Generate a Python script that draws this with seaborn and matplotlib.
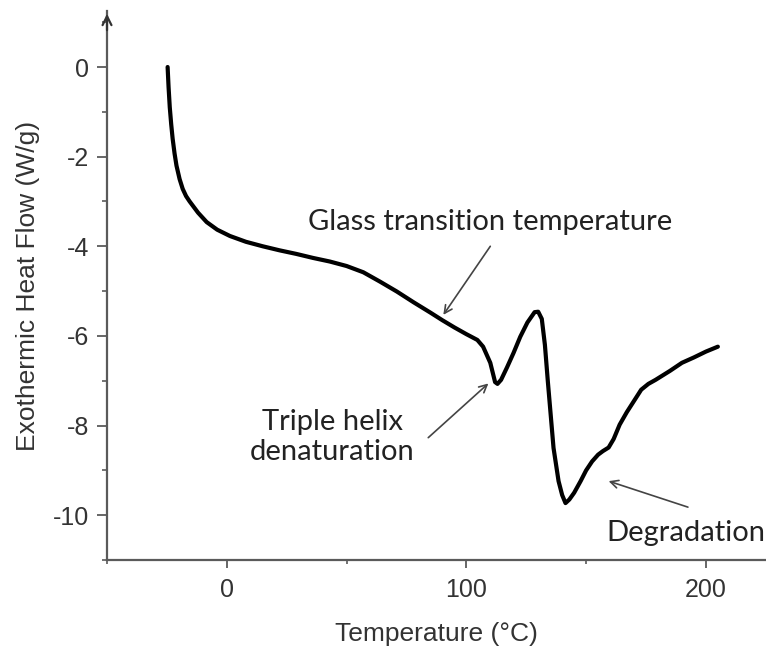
import matplotlib
matplotlib.use("Agg")
import matplotlib.pyplot as plt
from matplotlib.ticker import MultipleLocator
import seaborn as sns
import pandas as pd

# DSC trace: temperature (°C) vs exothermic heat flow (W/g)
temperature = [-24.7, -24.3, -23.8, -23.2, -22.6, -21.8, -21.0, -19.7, -18.4, -17.0,
               -15.5, -12.0, -8.4, -4.0, 1.3, 8.0, 15.0, 22.0, 29.0, 36.0,
               43.0, 50.0, 57.0, 64.0, 71.0, 78.0, 85.0, 90.0, 95.0, 100.0,
               104.6, 107.0, 110.0, 112.0, 113.0, 114.5, 117.0, 119.7, 122.5, 125.5,
               128.5, 130.0, 131.5, 132.8, 134.0, 136.4, 138.5, 140.0, 141.4, 143.0,
               145.0, 147.7, 150.0, 152.5, 155.0, 157.0, 159.4, 161.5, 164.0, 167.0,
               170.0, 173.0, 176.0, 179.0, 185.0, 190.0, 195.0, 200.0, 205.0]
heat_flow = [0.0, -0.45, -0.9, -1.28, -1.6, -1.93, -2.2, -2.5, -2.72, -2.88,
             -3.0, -3.25, -3.46, -3.63, -3.77, -3.9, -4.0, -4.09, -4.17, -4.26,
             -4.34, -4.44, -4.58, -4.79, -5.01, -5.25, -5.48, -5.65, -5.81, -5.96,
             -6.09, -6.24, -6.6, -7.03, -7.07, -6.98, -6.7, -6.38, -6.02, -5.7,
             -5.47, -5.46, -5.62, -6.2, -7.0, -8.5, -9.24, -9.55, -9.73, -9.65,
             -9.5, -9.24, -9.0, -8.8, -8.65, -8.57, -8.49, -8.3, -7.98, -7.7,
             -7.45, -7.2, -7.07, -6.98, -6.78, -6.6, -6.48, -6.35, -6.24]

x_ticks = [0, 100, 200]
y_ticks = [0, -2, -4, -6, -8, -10]

df = pd.DataFrame({"Temperature": temperature, "HeatFlow": heat_flow})

sns.set_theme(style="ticks")
plt.rcParams["font.family"] = ["Liberation Sans", "DejaVu Sans"]

fig = plt.figure(figsize=(7.66, 6.46), dpi=100)
ax = fig.add_axes([0.1397, 0.1331, 0.8600, 0.8499])

sns.lineplot(data=df, x="Temperature", y="HeatFlow", sort=False, estimator=None,
             color="black", linewidth=3.0, ax=ax)

ax.set_xlim(-50, 225)
ax.set_ylim(-11, 1.25)
ax.set_xticks(x_ticks)
ax.set_yticks(y_ticks)
ax.set_yticklabels([str(v) for v in y_ticks])
ax.xaxis.set_minor_locator(MultipleLocator(50))
ax.yaxis.set_minor_locator(MultipleLocator(1))

axis_col = "#5a5a5a"
for side in ("top", "right"):
    ax.spines[side].set_visible(False)
for side in ("left", "bottom"):
    ax.spines[side].set_color(axis_col)
    ax.spines[side].set_linewidth(1.6)

ax.tick_params(axis="both", which="major", direction="out", color=axis_col,
               width=1.3, labelsize=18, labelcolor="#333333")
ax.tick_params(axis="y", which="major", length=7, pad=6)
ax.tick_params(axis="y", which="minor", length=3.6, width=1.2, color=axis_col)
ax.tick_params(axis="x", which="major", length=6, pad=7)
ax.tick_params(axis="x", which="minor", length=3, width=1.2, color=axis_col)

# arrow head at the top of the y axis
ax.annotate("", xy=(0, 1.0), xycoords="axes fraction", xytext=(0, 0.96),
            textcoords="axes fraction",
            arrowprops=dict(arrowstyle="->", color="#333333", lw=1.6,
                            mutation_scale=16))

ax.set_xlabel("Temperature (°C)", fontsize=19, color="#333333", labelpad=14)
ax.set_ylabel("Exothermic Heat Flow (W/g)", fontsize=19, color="#333333", labelpad=9)

note_font = ["Lato", "DejaVu Sans"]
note_col = "#222222"
arrow_kw = dict(arrowstyle="->", color="#444444", lw=1.2, mutation_scale=14,
                shrinkA=0, shrinkB=0)

ax.text(110, -3.45, "Glass transition temperature", ha="center", va="center",
        fontsize=21, color=note_col, family=note_font)
ax.annotate("", xy=(90.4, -5.53), xytext=(110, -4.0), arrowprops=arrow_kw)

ax.text(44, -8.25, "Triple helix\ndenaturation", ha="center", va="center",
        fontsize=21, color=note_col, family=note_font, linespacing=1.2)
ax.annotate("", xy=(109.2, -7.06), xytext=(84.1, -8.27), arrowprops=arrow_kw)

ax.text(191.6, -10.4, "Degradation", ha="center", va="center",
        fontsize=21, color=note_col, family=note_font)
ax.annotate("", xy=(159.4, -9.24), xytext=(192.5, -9.82), arrowprops=arrow_kw)

fig.savefig("out.png", dpi=100, facecolor="white")
